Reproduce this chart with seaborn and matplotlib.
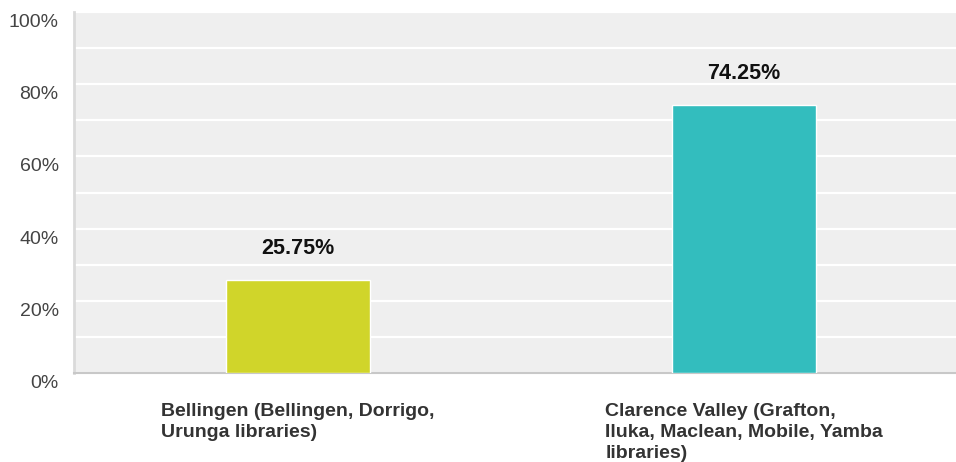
import matplotlib
matplotlib.use("Agg")
import matplotlib.pyplot as plt
import seaborn as sns
import pandas as pd

# chart data
categories = [
    "Bellingen (Bellingen, Dorrigo,\nUrunga libraries)",
    "Clarence Valley (Grafton,\nIluka, Maclean, Mobile, Yamba\nlibraries)",
]
values = [25.75, 74.25]
bar_colors = ["#D0D52A", "#33BDBE"]
y_ticks = [0, 20, 40, 60, 80, 100]

df = pd.DataFrame({"region": categories, "pct": values})

sns.set_theme(style="white")
plt.rcParams["font.family"] = ["Liberation Sans", "DejaVu Sans"]

fig = plt.figure(figsize=(9.56, 4.62), dpi=100)
ax = fig.add_axes([74 / 956, 1 - 373 / 462, 1 - 74 / 956, (373 - 12) / 462])
ax.set_facecolor("#EFEFEF")

sns.barplot(data=df, x="region", y="pct", hue="region", palette=bar_colors,
            width=0.323, legend=False, ax=ax, saturation=1, zorder=3)

ax.set_xlim(-0.502, 1.475)
ax.set_ylim(0, 100)

# gridlines every 10%
ax.set_yticks(y_ticks)
ax.set_yticks(range(10, 100, 20), minor=True)
ax.grid(axis="y", which="both", color="white", linewidth=1.6, zorder=1)
ax.set_axisbelow(True)

# y labels sit a little below their gridlines, so draw them by hand
ax.set_yticklabels([])
ax.tick_params(axis="y", which="both", length=0)
for t in y_ticks:
    ax.annotate(f"{t}%", (0, t), xycoords=ax.get_yaxis_transform(),
                xytext=(-11, -7.5), textcoords="offset points",
                ha="right", va="center", fontsize=14, color="#444444")

ax.tick_params(axis="x", length=0, pad=21.5)
for lab in ax.get_xticklabels():
    lab.set_fontweight("bold")
    lab.set_fontsize(14)
    lab.set_color("#333333")
    lab.set_multialignment("left")
    lab.set_verticalalignment("top")
    lab.set_linespacing(1.3)

for i, v in enumerate(values):
    ax.annotate(f"{v:.2f}%", (i, v), xytext=(0, 23), textcoords="offset points",
                ha="center", va="center", fontsize=15.5, fontweight="bold",
                color="#111111")

ax.set_xlabel("")
ax.set_ylabel("")
for s in ["top", "right"]:
    ax.spines[s].set_visible(False)
ax.spines["left"].set_color("#DADADA")
ax.spines["left"].set_linewidth(2)
ax.spines["bottom"].set_color("#C8C8C8")
ax.spines["bottom"].set_linewidth(1.5)

fig.savefig("out.png", dpi=100)
